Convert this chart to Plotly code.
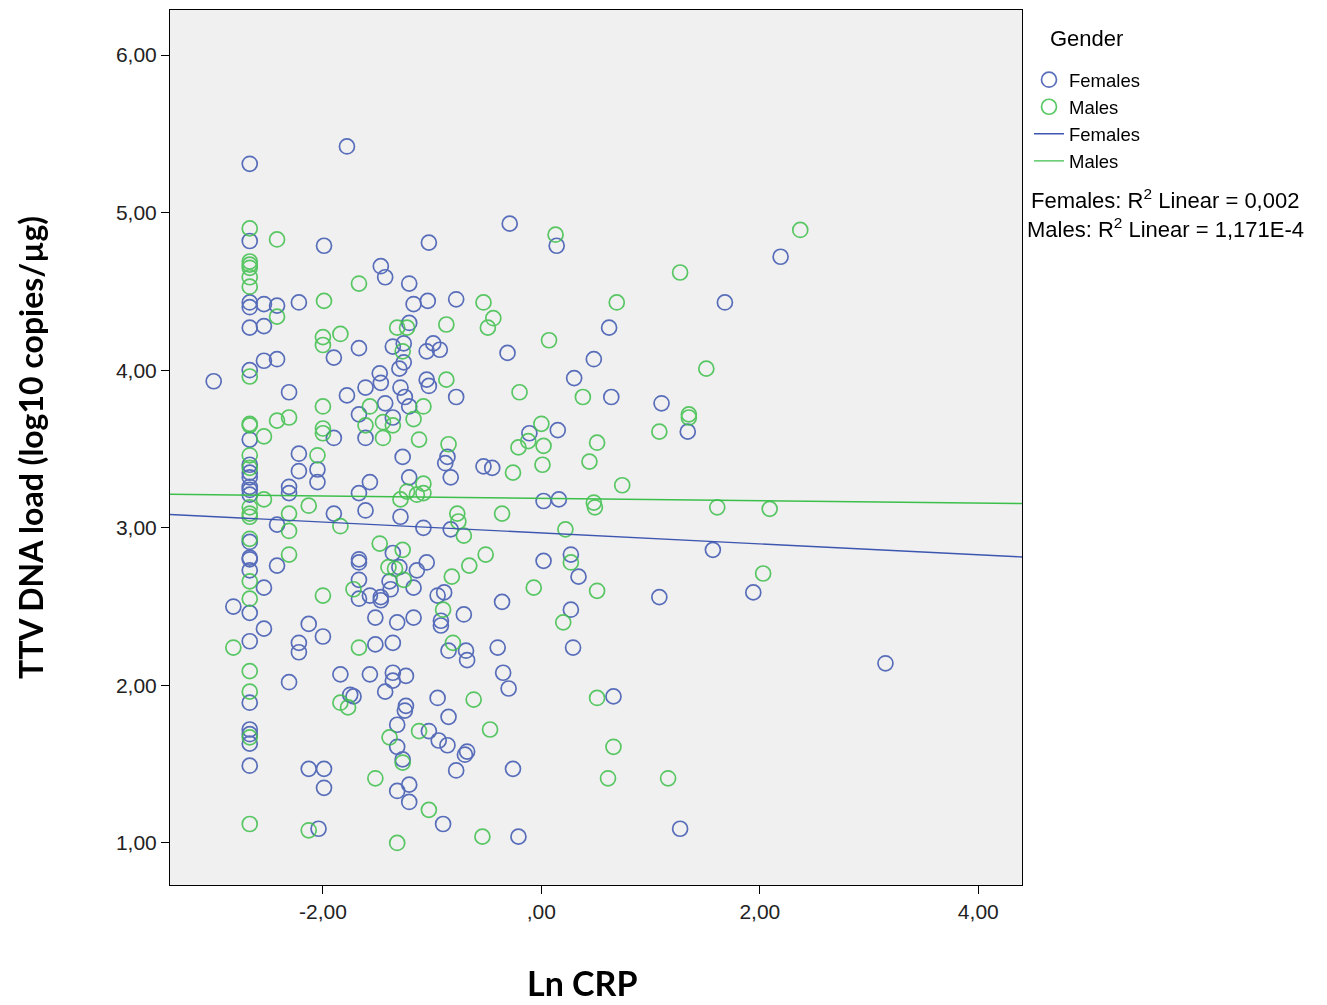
import plotly.graph_objects as go

# ---- Data: Ln CRP vs TTV DNA load (log10 copies/µg), by gender ----
females_ln_crp = [
    -2.67, -2.67, -2.67, -2.67, -2.67, -2.67, -2.67, -2.67, -2.67, -2.67, -2.67, -2.67,
    -2.67, -2.67, -2.67, -2.67, -2.67, -2.67, -2.67, -2.67, -2.67, -2.67, -2.67, -2.67,
    -3.00, -2.82, -2.54, -2.54, -2.54, -2.54, -2.54, -2.42, -2.42, -2.42, -2.42,
    -2.31, -2.31, -2.31, -2.31, -2.22, -2.22, -2.22, -2.22, -2.22, -2.13, -2.13,
    -2.05, -2.05, -2.04, -1.99, -2.00, -1.99, -1.99, -1.90, -1.90, -1.90, -1.78,
    -1.67, -1.67, -1.67, -1.61, -1.61, -1.61, -1.57, -1.78, -1.48, -1.47, -1.47,
    -1.43, -1.43, -1.36, -1.36, -1.29, -1.26, -1.26, -1.30, -1.25, -1.21, -1.21,
    -1.21, -1.21, -1.17, -1.27, -1.29, -1.05, -1.05, -1.04, -1.03, -1.03, -0.99,
    -0.93, -0.86, -0.88, -0.83, -0.78, -0.78,
    -1.08, -0.83, -1.36, -1.67, -1.67, -1.05, -1.30, -1.14, -1.67, -1.39, -1.38,
    -1.17, -1.67, -1.57, -1.47, -1.47, -0.95, -0.89, -0.92, -0.92, -1.52, -1.32,
    -1.17, -1.52, -1.36, -0.85, -1.84, -1.57, -1.36, -1.36, -1.24, -1.43, -1.75,
    -1.72, -1.24, -0.95,
    -1.25, -0.85, -1.32, -1.03, -0.94, -0.86, -1.32, -1.27, -0.78, -1.32, -1.21,
    -1.21, -0.90,
    -0.29, 0.14, 0.62, -0.31, 0.48, 0.30, 0.64, -0.11, 0.15, -0.53, -0.45, 0.02,
    0.16, 0.02, 0.27, 0.34, -0.36, -0.71, 0.27, -0.69, -0.68, -0.40, 0.29, -0.35,
    -0.30, 0.66, -0.68, -0.70, -0.26, -0.21,
    2.19, 1.68, 1.10, 1.34, 1.57, 1.08, 1.94, 1.27, 3.15,
]
females_ttv_load = [
    5.31, 4.82, 4.43, 4.40, 4.27, 4.00, 3.56, 3.40, 3.35, 3.32, 3.26, 3.24,
    3.21, 2.91, 2.81, 2.80, 2.73, 2.46, 2.28, 1.89, 1.72, 1.69, 1.63, 1.49,
    3.93, 2.50, 4.42, 4.28, 4.06, 2.62, 2.36, 4.41, 4.07, 3.02, 2.76,
    3.86, 3.26, 3.22, 2.02, 4.43, 3.47, 3.36, 2.27, 2.21, 2.39, 1.47,
    3.37, 3.29, 1.09, 4.79, 2.31, 1.47, 1.35, 4.08, 3.57, 3.09, 5.42,
    4.14, 3.72, 3.22, 3.89, 3.57, 3.11, 3.29, 3.84, 3.98, 3.92, 4.66,
    4.59, 3.79, 4.15, 3.70, 3.89, 4.17, 4.05, 4.01, 3.83, 4.55, 4.30,
    3.77, 3.32, 4.42, 3.45, 3.07, 4.12, 3.94, 4.44, 4.81, 3.90, 4.17,
    4.13, 3.45, 3.41, 3.32, 4.45, 3.83,
    3.00, 2.99, 2.84, 2.80, 2.78, 2.78, 2.75, 2.73, 2.67, 2.66, 2.61,
    2.62, 2.55, 2.57, 2.56, 2.54, 2.57, 2.59, 2.41, 2.38, 2.43, 2.40,
    2.43, 2.26, 2.27, 2.22, 2.07, 2.07, 2.08, 2.03, 2.06, 1.96, 1.94,
    1.93, 1.87, 1.92,
    1.84, 1.80, 1.75, 1.71, 1.65, 1.62, 1.61, 1.53, 1.46, 1.33, 1.37,
    1.26, 1.12,
    4.93, 4.79, 4.27, 4.11, 4.07, 3.95, 3.83, 3.60, 3.62, 3.39, 3.38, 3.17,
    3.18, 2.79, 2.83, 2.69, 2.53, 2.45, 2.48, 2.22, 2.16, 2.24, 2.24, 2.08,
    1.98, 1.93, 1.58, 1.56, 1.47, 1.04,
    4.72, 4.43, 3.79, 3.61, 2.86, 2.56, 2.59, 1.09, 2.14,
]

males_ln_crp = [
    -2.67, -2.67, -2.67, -2.67, -2.67, -2.67, -2.67, -2.67, -2.67, -2.67, -2.67,
    -2.67, -2.67, -2.67, -2.67, -2.67, -2.67, -2.67, -2.67, -2.67, -2.67,
    -2.82, -2.54, -2.54, -2.42, -2.42, -2.42, -2.31, -2.31, -2.31, -2.31, -2.13,
    -2.13, -2.05, -1.99, -2.00, -2.00, -2.00, -2.00, -2.00, -2.00, -1.84, -1.67,
    -1.32, -1.23, -0.87, -1.27, -0.87, -1.57, -1.08, -1.45, -1.17, -1.61, -1.36,
    -1.45, -1.12, -0.85, -1.08, -1.23, -1.29, -1.14, -1.08, -0.77, -1.84, -0.76,
    -0.71, -1.48, -1.27, -1.40, -1.34, -0.82, -1.72, -1.26, -0.90, -1.67, -0.81,
    -1.84, -1.77, -1.39, -1.12, -1.27, -1.52, -1.03, -1.32,
    0.13, -0.53, 0.69, -0.44, -0.49, 0.07, -0.20, 0.38, 0.00, -0.12, -0.21, 0.02,
    0.51, -0.26, 0.01, 0.44, 0.74, 0.48, 0.49, -0.36, 0.22, -0.51, -0.66, 0.27,
    -0.07, 0.51, 0.20, -0.62, 0.51, -0.47, 0.66, 0.61, -0.54,
    2.37, 1.27, 1.51, 1.35, 1.35, 1.08, 1.61, 2.09, 2.03, 1.16,
]
males_ttv_load = [
    4.90, 4.69, 4.67, 4.65, 4.59, 4.53, 3.96, 3.66, 3.65, 3.46, 3.38,
    3.13, 3.09, 3.07, 2.93, 2.66, 2.55, 2.09, 1.96, 1.67, 1.12,
    2.24, 3.58, 3.18, 4.83, 4.34, 3.68, 3.70, 3.09, 2.98, 2.83, 3.14,
    1.08, 3.46, 4.44, 4.21, 4.16, 3.77, 3.63, 3.60, 2.57, 4.23, 4.55,
    4.27, 4.27, 4.29, 4.12, 3.94, 3.77, 3.77, 3.67, 3.69, 3.65, 3.65,
    3.57, 3.56, 3.53, 3.28, 3.23, 3.18, 3.21, 3.22, 3.09, 3.01, 3.04,
    2.95, 2.90, 2.86, 2.75, 2.74, 2.69, 2.61, 2.67, 2.48, 2.24, 2.27,
    1.89, 1.86, 1.67, 1.71, 1.51, 1.41, 1.21, 1.00,
    4.86, 4.43, 4.43, 4.33, 4.27, 4.19, 3.86, 3.83, 3.66, 3.55, 3.51, 3.52,
    3.54, 3.35, 3.40, 3.42, 3.27, 3.16, 3.13, 3.09, 2.99, 2.83, 2.76, 2.78,
    2.62, 2.60, 2.40, 1.91, 1.92, 1.72, 1.61, 1.41, 1.04,
    4.89, 4.62, 4.01, 3.72, 3.70, 3.61, 3.13, 3.12, 2.71, 1.41,
]

# Linear fit lines per group: (intercept, slope)
females_fit = (2.967, -0.0346)
males_fit = (3.187, -0.0075)
fit_x_range = [-3.40, 4.40]

r2_labels = ["Females: R<sup>2</sup> Linear = 0,002",
             "Males: R<sup>2</sup> Linear = 1,171E-4"]

x_ticks = [-2, 0, 2, 4]
x_tick_text = ["-2,00", ",00", "2,00", "4,00"]
y_ticks = [1, 2, 3, 4, 5, 6]
y_tick_text = ["1,00", "2,00", "3,00", "4,00", "5,00", "6,00"]

BLUE = "#3d56b0"
GREEN = "#3cbf4a"
FONT = "Liberation Sans, Arial, sans-serif"
TITLE_FONT = "Lato, sans-serif"

fig = go.Figure()

marker_style = dict(symbol="circle-open", size=15, line=dict(width=1.7))
fig.add_trace(go.Scatter(
    x=females_ln_crp, y=females_ttv_load, mode="markers", name="Females",
    marker=dict(color=BLUE, **marker_style), opacity=0.85,
))
fig.add_trace(go.Scatter(
    x=males_ln_crp, y=males_ttv_load, mode="markers", name="Males",
    marker=dict(color=GREEN, **marker_style), opacity=0.85,
))

for name, (b0, b1), col in [("Females", females_fit, BLUE), ("Males", males_fit, GREEN)]:
    fig.add_trace(go.Scatter(
        x=fit_x_range, y=[b0 + b1 * v for v in fit_x_range], mode="lines",
        name=name, line=dict(color=col, width=1.4),
    ))

axis_common = dict(
    showline=True, linecolor="black", linewidth=1, mirror=True,
    ticks="outside", ticklen=8, tickcolor="black", showgrid=False, zeroline=False,
    tickfont=dict(family=FONT, size=21, color="#222"),
)

fig.update_xaxes(range=fit_x_range, tickvals=x_ticks, ticktext=x_tick_text, **axis_common)
fig.update_yaxes(range=[0.733, 6.286], tickvals=y_ticks, ticktext=y_tick_text,
                 title=dict(text="<b>TTV DNA load (log10 copies/µg)</b>",
                            font=dict(family=TITLE_FONT, size=32, color="black"),
                            standoff=62),
                 **axis_common)

# x-axis title
fig.add_annotation(text="<b>Ln CRP</b>", xref="paper", yref="paper",
                   x=0.4836, y=-0.1109, xanchor="center", yanchor="middle",
                   showarrow=False, font=dict(family=TITLE_FONT, size=34, color="black"))

# legend heading
fig.add_annotation(text="Gender", xref="paper", yref="paper",
                   x=1.0305, y=0.968, xanchor="left", yanchor="middle",
                   showarrow=False, font=dict(family=FONT, size=22, color="black"))

# R² labels for the fit lines
for i, txt in enumerate(r2_labels):
    fig.add_annotation(text=txt, xref="paper", yref="paper", x=1.1679, y=0.784 - i * 0.0331,
                       xanchor="center", yanchor="middle", showarrow=False,
                       font=dict(family=FONT, size=22, color="black"))

fig.update_layout(
    width=1327, height=1005,
    margin=dict(l=170, r=305, t=10, b=120),
    paper_bgcolor="white", plot_bgcolor="#f0f0f0",
    showlegend=True,
    legend=dict(
        x=1.0082, y=0.9415, xanchor="left", yanchor="top",
        font=dict(family=FONT, size=18.5, color="black"),
        bgcolor="rgba(0,0,0,0)", tracegroupgap=0, itemwidth=30,
    ),
)

fig.write_html("out.html")
